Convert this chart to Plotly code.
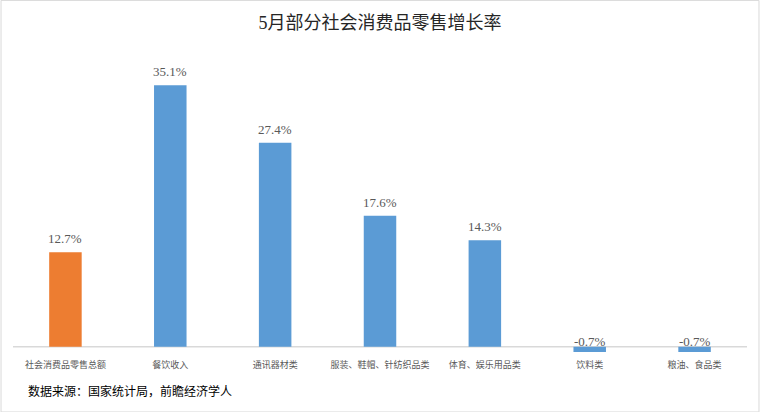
import plotly.graph_objects as go

categories = ["社会消费品零售总额", "餐饮收入", "通讯器材类", "服装、鞋帽、针纺织品类",
              "体育、娱乐用品类", "饮料类", "粮油、食品类"]
values = [12.7, 35.1, 27.4, 17.6, 14.3, -0.7, -0.7]
labels = ["12.7%", "35.1%", "27.4%", "17.6%", "14.3%", "-0.7%", "-0.7%"]
colors = ["#ED7D31"] + ["#5B9BD5"] * 6

W, H = 760, 412
ML, MR, MT, MB = 12.5, 12.5, 60, 54.4
pw = W - ML - MR
ph = H - MT - MB

fig = go.Figure()
fig.add_trace(go.Bar(x=categories, y=values, marker=dict(color=colors, line=dict(width=0)),
                     width=0.31, hoverinfo="skip"))

for c, v, t in zip(categories, values, labels):
    fig.add_annotation(x=c, y=max(v, 0), text=t, showarrow=False, yanchor="bottom",
                       yshift=4 if v > 0 else -4,
                       font=dict(family="Liberation Serif, serif", size=13, color="#595959"))

# zero axis line
fig.add_shape(type="line", xref="paper", yref="y", x0=0, x1=1, y0=0, y1=0,
              line=dict(color="#D9D9D9", width=1.5), layer="below")
# outer border
fig.add_shape(type="rect", xref="paper", yref="paper",
              x0=(0.5 - ML) / pw, x1=(W - 0.5 - ML) / pw,
              y0=-(H - 0.5 - MT - ph) / ph, y1=1 + (MT - 0.5) / ph,
              line=dict(color="#D9D9D9", width=1))

fig.add_annotation(xref="paper", yref="paper", x=(26 - ML) / pw, y=-(390 - MT - ph) / ph,
                   text="数据来源：国家统计局，前瞻经济学人", showarrow=False,
                   xanchor="left", yanchor="middle",
                   font=dict(family="Noto Sans CJK SC", size=12, color="#000000"))

fig.update_layout(
    width=W, height=H,
    margin=dict(l=ML, r=MR, t=MT, b=MB),
    paper_bgcolor="white", plot_bgcolor="white",
    title=dict(text="5月部分社会消费品零售增长率", x=0.5, xanchor="center", y=1 - 23 / H, yanchor="middle",
               font=dict(family="Liberation Serif, Noto Sans CJK SC", size=18, color="#262626")),
    xaxis=dict(showgrid=False, showline=False, ticks="", tickfont=dict(family="Noto Sans CJK SC", size=9, color="#595959"),
               fixedrange=True),
    yaxis=dict(range=[-1.5, 38.5], visible=False, showgrid=False, zeroline=False),
    showlegend=False, bargap=0.69,
)

fig.write_html("out.html")
